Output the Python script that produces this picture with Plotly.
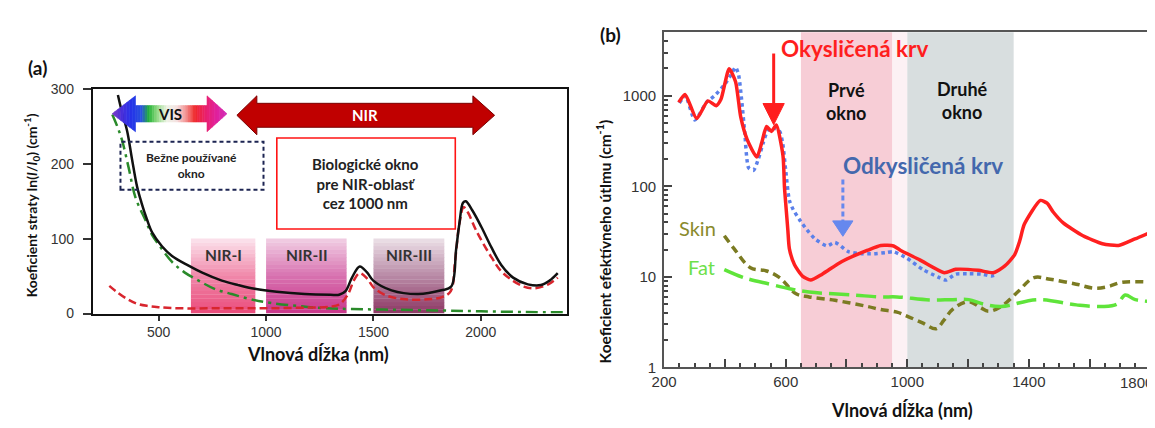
import plotly.graph_objects as go

W, H = 1155, 428
OFF = 8  # default page margin of the browser around the figure
FW, FH = W - OFF, H - OFF

# ---------------- Panel (a) data ----------------
a_total_nm = [310, 330, 353, 376, 399, 420, 445, 470, 515, 562, 639, 700, 794, 870, 947, 1050, 1180, 1300, 1340,
              1370, 1400, 1436, 1470, 1499, 1584, 1708, 1816, 1862, 1885, 1900, 1917, 1930, 1960, 2002, 2050,
              2095, 2150, 2219, 2280, 2320, 2358]
a_total_val = [292, 268, 244, 206, 170, 148, 126, 108, 90, 77, 64, 55, 44, 38, 33, 29, 26, 25, 25,
               30, 48, 63, 55, 44, 31, 26, 31, 36, 86, 120, 148, 150, 138, 116, 88,
               65, 48, 39, 38, 44, 54]
a_water_nm = [270, 300, 350, 400, 450, 500, 600, 800, 1000, 1200, 1300, 1340, 1380, 1410, 1436, 1470, 1500,
              1560, 1650, 1750, 1820, 1860, 1880, 1900, 1920, 1940, 1980, 2050, 2100, 2200, 2260, 2320, 2358]
a_water_val = [37, 30, 20, 13, 10, 8.5, 7, 7, 7, 8, 9, 12, 25, 45, 54, 47, 35,
               24, 19, 19, 22, 30, 70, 120, 142, 135, 110, 75, 55, 36, 34, 40, 48]
a_scatter_nm = [284, 310, 330, 360, 392, 438, 469, 500, 562, 620, 686, 760, 840, 930, 1026, 1150, 1273, 1400,
                1600, 1816, 2000, 2200, 2400]
a_scatter_val = [266, 248, 231, 195, 155, 125, 105, 92, 69, 55, 44, 33, 26, 19, 14, 10, 7, 6,
                 5, 4, 3, 2, 1.5]
a_xticks = [500, 1000, 1500, 2000]
a_yticks = [0, 100, 200, 300]
a_bands = ["NIR-I", "NIR-II", "NIR-III"]
a_band_start = [650, 1000, 1500]
a_band_end = [950, 1375, 1830]

# ---------------- Panel (b) data ----------------
b_oxy_nm = [248, 269, 307, 344, 371, 387, 414, 435, 452, 473, 505, 521, 537, 553, 569, 591, 596, 601, 607,
            612, 629, 655, 682, 720, 785, 870, 913, 955, 977, 1041, 1122, 1159, 1234, 1283, 1320, 1353,
            1370, 1385, 1438, 1460, 1480, 1513, 1578, 1642, 1695, 1749, 1800]
b_oxy_val = [843, 1033, 560, 877, 776, 913, 1986, 1430, 583, 329, 210, 302, 457, 404, 475, 219, 97, 59, 33,
             20.5, 13.6, 10.2, 9.2, 10.7, 14.8, 19.7, 22.2, 21.9, 19.7, 15.4, 11.1, 12.1, 11.8, 11.1, 13.1, 17.5,
             25, 38, 69.8, 65, 52, 39.4, 28.4, 23.2, 22.2, 26.2, 31]
b_deoxy_nm = [250, 270, 301, 340, 366, 398, 420, 435, 445, 455, 465, 478, 494, 510, 526, 542, 560, 580, 590,
              600, 612, 625, 645, 670, 698, 736, 762, 806, 850, 891, 930, 955, 999, 1052, 1100, 1127, 1159,
              1200, 1245, 1277, 1290]
b_deoxy_val = [830, 1000, 540, 850, 1000, 1318, 1700, 2066, 1700, 900, 400, 160, 150, 200, 302, 420, 440, 404, 300,
               150, 70, 55, 43, 33, 26, 22, 24, 19, 18, 18, 18.5, 18.9, 16, 12, 10, 9.2, 10.7,
               10.8, 10.7, 10.2, 10.5]
b_skin_nm = [398, 430, 484, 537, 580, 634, 677, 762, 870, 913, 966, 999, 1050, 1095, 1120, 1150, 1202, 1240,
             1267, 1309, 1363, 1417, 1470, 1556, 1615, 1660, 1706, 1815]
b_skin_val = [28.4, 20.5, 12.6, 11.6, 9.8, 6.5, 6.0, 5.5, 4.7, 4.35, 4.07, 3.69, 3.1, 2.67, 3.3, 4.4, 5.33, 4.6,
              4.17, 4.71, 6.8, 9.8, 9.4, 8.3, 7.5, 7.8, 8.7, 8.7]
b_fat_nm = [398, 462, 548, 612, 677, 827, 913, 966, 1073, 1150, 1202, 1250, 1309, 1428, 1556, 1642, 1690, 1717,
            1750, 1815]
b_fat_val = [12, 9.8, 8.3, 7.4, 6.8, 6.28, 6.0, 6.0, 5.55, 5.6, 5.6, 5.0, 4.71, 5.6, 4.9, 4.7, 5.0, 6.3,
             5.6, 5.3]
b_xlabel_vals = [200, 600, 1000, 1400]
b_xmid_vals = [400, 800, 1200, 1600, 1800]
b_xlast_label = "1800"
b_ytick_vals = [1, 10, 100, 1000]
b_ytick_text = ["1", "10", "100", "1000"]
b_windows = ["Prvé<br>okno", "Druhé<br>okno"]
b_window_start = [650, 1000]
b_window_end = [950, 1350]


# ---------------- helpers ----------------
def px(x):
    return (x - OFF) / FW


def py(y):
    return 1 - (y - OFF) / FH


def hex2rgb(h):
    h = h.lstrip("#")
    return tuple(int(h[i:i + 2], 16) for i in (0, 2, 4))


def mix(c1, c2, t):
    a, b = hex2rgb(c1), hex2rgb(c2)
    return "rgb(%d,%d,%d)" % tuple(round(a[i] + (b[i] - a[i]) * t) for i in range(3))


def color_at(stops, x):
    if x <= stops[0][0]:
        return mix(stops[0][1], stops[0][1], 0)
    for (xa, ca), (xb, cb) in zip(stops[:-1], stops[1:]):
        if xa <= x <= xb:
            return mix(ca, cb, (x - xa) / (xb - xa))
    return mix(stops[-1][1], stops[-1][1], 0)


def lin(a, b, n):
    return [a + (b - a) * i / n for i in range(n + 1)]


fig = go.Figure()
shapes = []
annotations = []

FONT_T = "Lato, 'Open Sans', sans-serif"
FONT_N = "'Liberation Sans', Arial, sans-serif"
XR2 = [200, 1815]

# ---------- panel (a) gradient bands ----------
band_cols = [("#ea4a7a", "#f088aa", "#fce4ed"),
             ("#c9368a", "#d872b0", "#f1cfe4"),
             ("#8e3864", "#b88aa6", "#ece0e7")]
NSTRIP = 20
for (x0, x1), cols in zip(zip(a_band_start, a_band_end), band_cols):
    stops = [(0, cols[0]), (50, cols[1]), (100, cols[2])]
    ys = lin(0, 100, NSTRIP)
    for ya, yb in zip(ys[:-1], ys[1:]):
        c = color_at(stops, (ya + yb) / 2)
        shapes.append(dict(type="rect", xref="x", yref="y", x0=x0, x1=x1, y0=ya, y1=yb + 0.4,
                           fillcolor=c, line=dict(width=0), layer="below"))

# ---------- VIS gradient arrow ----------
vis_stops = [(283, "#7e3cc4"), (330, "#4a2fda"), (376, "#2233ea"), (422, "#2a55dc"), (455, "#22b236"),
             (492, "#8fd882"), (539, "#eef3e6"), (585, "#f6e2e2"), (632, "#f28a8a"), (669, "#f02a2a"),
             (716, "#ea2068"), (771, "#e0209e"), (818, "#d22fb8")]


def arrow_slices(x0, x1, x2, x3, cy, Hh, hh, stops, n_head=8, n_shaft=30):
    out = []

    def add(a, b, ha, hb, c):
        path = "M %f,%f L %f,%f L %f,%f L %f,%f Z" % (a, cy + ha, b, cy + hb, b, cy - hb, a, cy - ha)
        out.append(dict(type="path", xref="x", yref="y", path=path, fillcolor=c,
                        line=dict(color=c, width=0.6), layer="above"))

    xs = lin(x0, x1, n_head)
    for a, b in zip(xs[:-1], xs[1:]):
        add(a, b, Hh * (a - x0) / (x1 - x0), Hh * (b - x0) / (x1 - x0), color_at(stops, (a + b) / 2))
    xs = lin(x1, x2, n_shaft)
    for a, b in zip(xs[:-1], xs[1:]):
        add(a, b, hh, hh, color_at(stops, (a + b) / 2))
    xs = lin(x2, x3, n_head)
    for a, b in zip(xs[:-1], xs[1:]):
        add(a, b, Hh * (x3 - a) / (x3 - x2), Hh * (x3 - b) / (x3 - x2), color_at(stops, (a + b) / 2))
    return out


shapes += arrow_slices(283, 392, 725, 818, 267, 24, 11, vis_stops)

# ---------- NIR arrow ----------
nx0, nx1, nx2, nx3, ncy, nH, nh = 864, 957, 1963, 2064, 265, 26, 16
nir_path = ("M %f,%f L %f,%f L %f,%f L %f,%f L %f,%f L %f,%f L %f,%f L %f,%f L %f,%f L %f,%f Z" %
            (nx0, ncy, nx1, ncy + nH, nx1, ncy + nh, nx2, ncy + nh, nx2, ncy + nH, nx3, ncy,
             nx2, ncy - nH, nx2, ncy - nh, nx1, ncy - nh, nx1, ncy - nH))
shapes.append(dict(type="path", xref="x", yref="y", path=nir_path, fillcolor="#c00000",
                   line=dict(color="#7a0000", width=1), layer="above"))

# ---------- boxes ----------
shapes.append(dict(type="rect", xref="x", yref="y", x0=322, x1=988, y0=165.4, y1=229.5,
                   line=dict(color="#1c2452", width=2, dash="4px,3px"), fillcolor="rgba(255,255,255,0)",
                   layer="above"))
shapes.append(dict(type="rect", xref="x", yref="y", x0=1050, x1=1881, y0=113, y1=234.6,
                   line=dict(color="#ff1414", width=1.6), fillcolor="white", layer="above"))

# ---------- panel (b) windows ----------
shapes.append(dict(type="rect", xref="x2", yref="y2 domain", x0=950, x1=1000, y0=0, y1=1,
                   fillcolor="#fcf1f4", line=dict(width=0), layer="below"))
for x0, x1, c in zip(b_window_start, b_window_end, ["#f7cdd6", "#d8dedf"]):
    shapes.append(dict(type="rect", xref="x2", yref="y2 domain", x0=x0, x1=x1, y0=0, y1=1,
                       fillcolor=c, line=dict(width=0), layer="below"))

# ---------- panel (b) arrows (pixel positioned) ----------
shapes.append(dict(type="line", xref="paper", yref="paper", x0=px(769.3), x1=px(769.3), y0=py(47), y1=py(104),
                   line=dict(color="#ff1e1e", width=3)))
shapes.append(dict(type="path", xref="paper", yref="paper",
                   path="M %f,%f L %f,%f L %f,%f Z" % (px(758.5), py(99), px(780), py(99), px(769.3), py(121)),
                   fillcolor="#ff1e1e", line=dict(color="#ff1e1e", width=1)))
shapes.append(dict(type="line", xref="paper", yref="paper", x0=px(839.3), x1=px(839.3), y0=py(178), y1=py(223),
                   line=dict(color="#6688ee", width=3, dash="5px,3px")))
shapes.append(dict(type="path", xref="paper", yref="paper",
                   path="M %f,%f L %f,%f L %f,%f Z" % (px(829), py(221), px(849.5), py(221), px(839.3), py(237)),
                   fillcolor="#6688ee", line=dict(color="#6688ee", width=1)))

# ---------- traces panel (a) ----------
fig.add_trace(go.Scatter(x=a_scatter_nm, y=a_scatter_val, mode="lines", xaxis="x", yaxis="y",
                         line=dict(color="#2a8a2a", width=2.5, dash="12px,5px,3px,5px", shape="spline"),
                         hoverinfo="skip"))
fig.add_trace(go.Scatter(x=a_water_nm, y=a_water_val, mode="lines", xaxis="x", yaxis="y",
                         line=dict(color="#d8262e", width=2.5, dash="8px,4px", shape="spline"),
                         hoverinfo="skip"))
fig.add_trace(go.Scatter(x=a_total_nm, y=a_total_val, mode="lines", xaxis="x", yaxis="y",
                         line=dict(color="#111111", width=2.5, shape="spline"), hoverinfo="skip"))

# ---------- traces panel (b) ----------
fig.add_trace(go.Scatter(x=b_skin_nm, y=b_skin_val, mode="lines", xaxis="x2", yaxis="y2",
                         line=dict(color="#7b7b22", width=3.5, dash="8px,5px", shape="spline"),
                         hoverinfo="skip"))
fig.add_trace(go.Scatter(x=b_fat_nm, y=b_fat_val, mode="lines", xaxis="x2", yaxis="y2",
                         line=dict(color="#5fe43a", width=3.5, dash="20px,7px", shape="spline"),
                         hoverinfo="skip"))
fig.add_trace(go.Scatter(x=b_deoxy_nm, y=b_deoxy_val, mode="lines", xaxis="x2", yaxis="y2",
                         line=dict(color="#5b80ea", width=3.5, dash="dot", shape="spline", smoothing=0.6),
                         hoverinfo="skip"))
fig.add_trace(go.Scatter(x=b_oxy_nm, y=b_oxy_val, mode="lines", xaxis="x2", yaxis="y2",
                         line=dict(color="#ff2020", width=3.5, shape="spline", smoothing=0.6),
                         hoverinfo="skip"))
# empty trace to register the overlay axis carrying the unlabeled 200-nm ticks
fig.add_trace(go.Scatter(x=[], y=[], xaxis="x3", yaxis="y2", hoverinfo="skip"))


# ---------- annotations ----------
def ann(x, y, text, size, color="#111", bold=True, font=FONT_T, angle=0, xref="paper", yref="paper",
        xanchor="center"):
    if bold:
        text = "<b>" + text + "</b>"
    annotations.append(dict(x=x, y=y, xref=xref, yref=yref, text=text, showarrow=False,
                            xanchor=xanchor, yanchor="middle", textangle=angle,
                            font=dict(family=font, size=size, color=color)))


ann(px(25), py(62), "(a)", 19)
ann(px(604), py(27), "(b)", 19)
ann(px(19), py(205), "Koeficient straty ln(<i>I</i>/<i>I</i><sub>0</sub>) (cm<sup>-1</sup>)", 14, angle=-90)
ann(px(308), py(359), "Vlnová dĺžka (nm)", 18)
ann(px(597), py(242), "Koeficient efektívneho útlmu (cm<sup>-1</sup>)", 15.5, angle=-90)
ann(px(899), py(418), "Vlnová dĺžka (nm)", 18)
# last x tick label of panel (b), kept inside the picture
ann(1.0, py(389), b_xlast_label, 15, color="#333", bold=False, font=FONT_N, xanchor="right")

ann(554, 267, "VIS", 15, xref="x", yref="y")
ann(1460, 265, "NIR", 15, color="white", xref="x", yref="y")
ann(655, 197.5, "Bežne používané<br>okno", 12, color="#222", xref="x", yref="y")
ann(1465, 174, "Biologické okno<br>pre NIR-oblasť<br>cez 1000 nm", 15, color="#222", xref="x", yref="y")
for name, s, e in zip(a_bands, a_band_start, a_band_end):
    ann((s + e) / 2, 78, name, 15.5, color="#333", xref="x", yref="y")

ann(px(852), py(42), "Okysličená krv", 22.5, color="#ff1e1e")
ann(px(920), py(163), "Odkysličená krv", 22.5, color="#4468ad")
ann(px(842), py(97), b_windows[0], 18, color="#111")
ann(px(960), py(96), b_windows[1], 18, color="#111")
ann(px(692), py(228), "Skin", 20, color="#8a8a2c", bold=False)
ann(px(696), py(269), "Fat", 20, color="#6ee04a", bold=False)

# ---------- layout ----------
fig.update_layout(
    width=FW, height=FH, margin=dict(l=0, r=0, t=0, b=0),
    paper_bgcolor="white", plot_bgcolor="rgba(0,0,0,0)", showlegend=False,
    shapes=shapes, annotations=annotations,
    xaxis=dict(domain=[px(80.7), px(560)], range=[193.5, 2400], anchor="y",
               tickmode="array", tickvals=a_xticks, ticks="outside", ticklen=5, tickwidth=1.5,
               tickcolor="#333", showline=True, linecolor="#111", linewidth=2, mirror=True,
               showgrid=False, zeroline=False, tickfont=dict(family=FONT_N, size=14, color="#333")),
    yaxis=dict(domain=[py(317.3), py(84)], range=[0, 300], anchor="x",
               tickmode="array", tickvals=a_yticks, ticks="outside", ticklen=8, tickwidth=1.5,
               tickcolor="#333", showline=True, linecolor="#111", linewidth=2, mirror=True,
               showgrid=False, zeroline=False, ticklabelstandoff=6,
               tickfont=dict(family=FONT_N, size=14, color="#333")),
    xaxis2=dict(domain=[px(658.5), 1.0], range=XR2, anchor="y2",
                tickmode="array", tickvals=b_xlabel_vals, ticks="inside",
                ticklen=8, tickwidth=2, tickcolor="#444", showline=True, linecolor="#555", linewidth=2,
                mirror=True, showgrid=False, zeroline=False,
                minor=dict(tickmode="array", tickvals=[v for v in range(250, 1815, 50) if v % 200 != 0],
                           ticks="inside", ticklen=4, tickwidth=2, tickcolor="#444", showgrid=False),
                tickfont=dict(family=FONT_N, size=15, color="#333")),
    xaxis3=dict(overlaying="x2", anchor="y2", range=XR2, side="bottom",
                tickmode="array", tickvals=b_xmid_vals, ticks="inside", ticklen=8, tickwidth=2,
                tickcolor="#444", showticklabels=False, showline=False, showgrid=False, zeroline=False),
    yaxis2=dict(domain=[py(373.3), py(25)], type="log", range=[0, 3.70], anchor="x2",
                tickmode="array", tickvals=b_ytick_vals, ticktext=b_ytick_text, ticks="inside",
                ticklen=8, tickwidth=2, tickcolor="#444", showline=True, linecolor="#555", linewidth=2,
                showgrid=False, zeroline=False, ticklabelstandoff=3,
                minor=dict(tickmode="array",
                           tickvals=[m * d for d in (1, 10, 100, 1000) for m in range(2, 10) if m * d < 5000],
                           ticks="inside", ticklen=4, tickwidth=1.5, tickcolor="#444", showgrid=False),
                tickfont=dict(family=FONT_N, size=15, color="#333")),
)

fig.write_html("out.html")
